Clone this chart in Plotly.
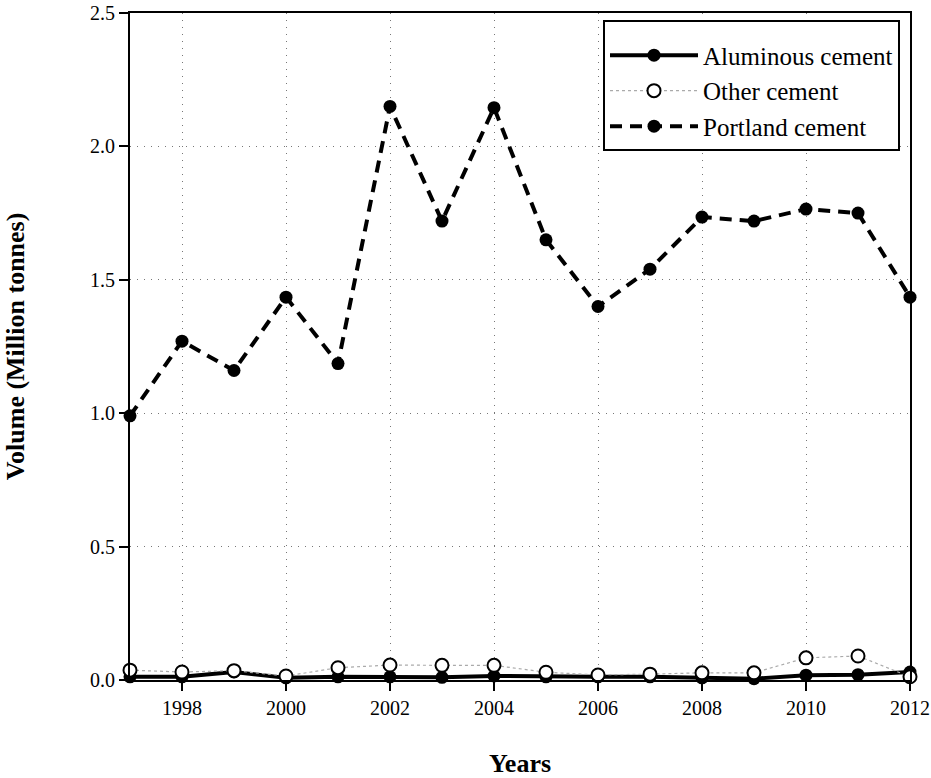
import plotly.graph_objects as go

years = list(range(1997, 2013))
aluminous = [0.012, 0.012, 0.030, 0.008, 0.012, 0.012, 0.010, 0.015, 0.012, 0.012,
             0.012, 0.008, 0.005, 0.018, 0.020, 0.030]
other = [0.037, 0.030, 0.035, 0.015, 0.046, 0.056, 0.055, 0.055, 0.029, 0.019,
         0.022, 0.027, 0.027, 0.083, 0.090, 0.012]
portland = [0.99, 1.27, 1.16, 1.435, 1.186, 2.15, 1.72, 2.145, 1.65, 1.40,
            1.54, 1.735, 1.72, 1.765, 1.75, 1.435]
x_ticks = list(range(1998, 2013, 2))
y_ticks = [0.0, 0.5, 1.0, 1.5, 2.0, 2.5]

FONT = "Liberation Serif"

fig = go.Figure()
fig.add_trace(go.Scatter(
    x=years, y=aluminous, name="Aluminous cement", mode="lines+markers",
    legendgroup="a",
    line=dict(color="black", width=4),
    marker=dict(symbol="circle", size=13, color="black"),
    cliponaxis=False))
fig.add_trace(go.Scatter(
    x=years, y=other, name="Other cement", mode="lines+markers",
    legendgroup="b",
    line=dict(color="#aaaaaa", width=1.2, dash="dot"),
    marker=dict(symbol="circle", size=13, color="white", line=dict(color="black", width=2)),
    cliponaxis=False))
fig.add_trace(go.Scatter(
    x=years, y=portland, name="Portland cement", mode="lines+markers",
    legendgroup="c",
    line=dict(color="black", width=4, dash="12px,8px"),
    marker=dict(symbol="circle", size=13, color="black"),
    cliponaxis=False))

axis_common = dict(showline=True, linecolor="black", linewidth=2, mirror=True,
                   ticks="outside", ticklen=9, tickwidth=2, tickcolor="black",
                   showgrid=True, gridcolor="#777777", gridwidth=1, griddash="1px,6px",
                   zeroline=False, automargin=False,
                   tickfont=dict(family=FONT, size=20, color="black"))

fig.update_xaxes(range=[1997, 2012], tickvals=x_ticks, ticktext=[str(v) for v in x_ticks],
                 title=dict(text="<b>Years</b>", font=dict(family=FONT, size=26, color="black"),
                            standoff=38),
                 **axis_common)
fig.update_yaxes(range=[0, 2.5], tickvals=y_ticks, tickformat=".1f",
                 title=dict(text="<b>Volume (Million tonnes)</b>",
                            font=dict(family=FONT, size=26, color="black"), standoff=58),
                 **axis_common)

fig.update_layout(
    width=931, height=778,
    margin=dict(l=130, r=21, t=13, b=98),
    plot_bgcolor="white", paper_bgcolor="white",
    font=dict(family=FONT, color="black"),
    showlegend=True,
    legend=dict(x=(603 - 130) / 780, y=(680 - 20) / 667, xanchor="left", yanchor="top",
                bordercolor="black", borderwidth=2, bgcolor="white",
                font=dict(family=FONT, size=25, color="black"),
                title=dict(text=" ", font=dict(size=8)),
                itemwidth=88, tracegroupgap=0),
)

fig.write_html("out.html", config={"displayModeBar": False},
               post_script="document.body.style.margin='0';document.body.style.overflow='hidden';")
